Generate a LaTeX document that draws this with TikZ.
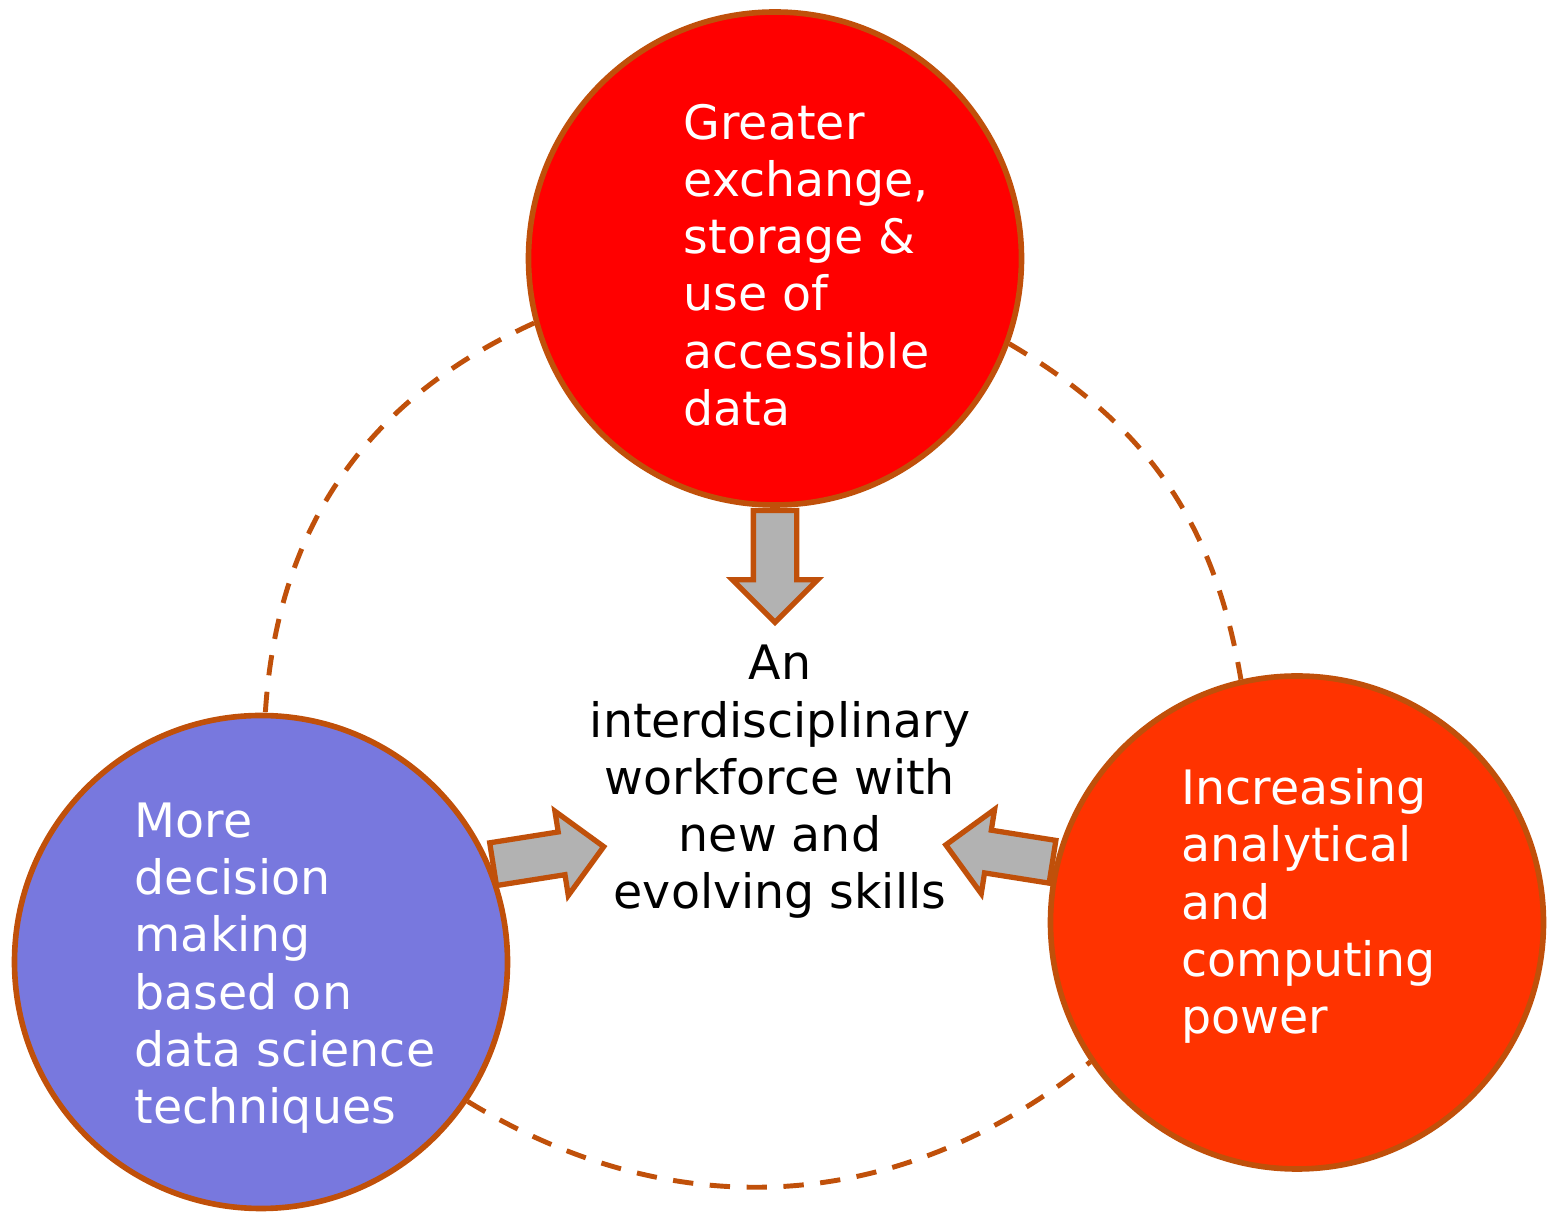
\documentclass[tikz,border=0pt]{standalone}
\usepackage{fontspec}
\setmainfont{DejaVu Sans}
\usepackage{xcolor}
\usetikzlibrary{positioning, arrows, shapes.arrows}
\definecolor{rimcol}{RGB}{192,80,10}
\definecolor{topred}{RGB}{255,0,0}
\definecolor{leftblue}{RGB}{120,120,222}
\definecolor{rightorange}{RGB}{255,51,0}
\definecolor{arrowgray}{RGB}{178,178,178}
\tikzset{
    every node/.style={font=\fontsize{13.5pt}{16.3pt}\selectfont}, % text size of all labels
    bubble/.style={circle, draw=rimcol, line width=1.6pt, minimum size=4.93cm, inner sep=0pt}, % the three big circles
    bubbletext/.style={text=white, align=left, anchor=west, inner sep=0pt}, % white text inside a circle
    ring/.style={draw=rimcol, line width=1.4pt, dash pattern=on 5.8pt off 4.7pt}, % dashed arcs between the circles
    blockarrow/.style={single arrow, draw=rimcol, fill=arrowgray, line width=1.5pt,
        minimum height=1.12cm, inner xsep=0pt, inner ysep=0.19cm,
        single arrow head extend=0.21cm, anchor=tail}, % gray arrows towards the middle
}

\begin{document}
\begin{tikzpicture}
    \useasboundingbox (0,0) rectangle (15.49,-12.16);

    \node[bubble, fill=topred] (G) at (7.75,-2.585) {};
    \node[bubble, fill=leftblue] (D) at (2.61,-9.62) {};
    \node[bubble, fill=rightorange] (I) at (12.97,-9.225) {};

    \path[ring]
        (G.195) edge[bend right=31] (D.89)
        (G.-20) edge[bend left=25] (I.103.5)
        (D.-34) edge[bend right=35] (I.214);

    \node[blockarrow, rotate=-90] (AG) at (G.south) {};
    \node[blockarrow, rotate=9] (AD) at (D.23) {};
    \node[blockarrow, rotate=171, minimum height=1.08cm] (AI) at (I.166.7) {};

    \node[bubbletext] (tG) at (6.83,-2.65) {Greater\\exchange,\\storage \&\\use of\\accessible\\data};
    \node[bubbletext] (tD) at (1.34,-9.68) {More\\decision\\making\\based on\\data science\\techniques};
    \node[bubbletext] (tI) at (11.81,-9.06) {Increasing\\analytical\\and\\computing\\power};
    \node[align=center, inner sep=0pt] (W) at (7.80,-7.82) {An\\interdisciplinary\\workforce with\\new and\\evolving skills};
\end{tikzpicture}
\end{document}
